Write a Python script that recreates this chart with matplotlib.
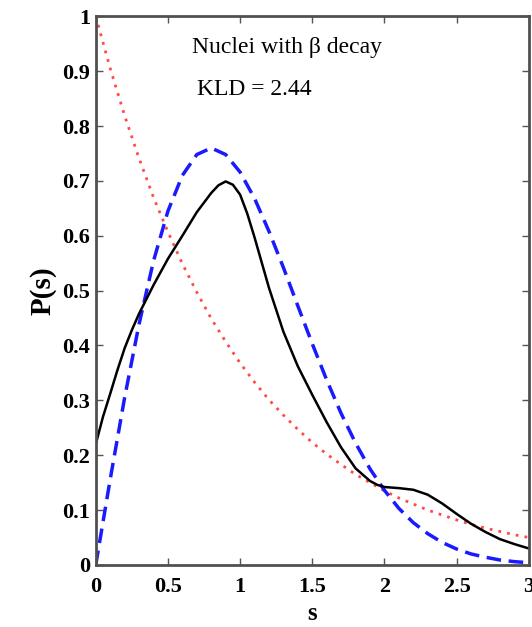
import matplotlib
matplotlib.use('Agg')
import matplotlib.pyplot as plt

# empirical spacing distribution (black)
s_data = [0, 0.05, 0.1, 0.15, 0.2, 0.25, 0.3, 0.4, 0.5, 0.6, 0.7, 0.8, 0.85, 0.9, 0.95,
          1.0, 1.05, 1.1, 1.2, 1.3, 1.4, 1.5, 1.6, 1.7, 1.8, 1.9, 1.95, 2.0, 2.1, 2.2,
          2.3, 2.4, 2.5, 2.6, 2.7, 2.8, 2.9, 3.0]
p_data = [0.22, 0.27, 0.312, 0.355, 0.395, 0.428, 0.458, 0.51, 0.558, 0.60, 0.643, 0.678, 0.692, 0.699, 0.693,
          0.675, 0.64, 0.597, 0.505, 0.425, 0.362, 0.31, 0.26, 0.214, 0.176, 0.153, 0.146, 0.142, 0.14, 0.137,
          0.128, 0.112, 0.093, 0.075, 0.06, 0.047, 0.038, 0.03]

# reference curves read at s = 0, 0.1, ..., 3
s_ref = [i / 10 for i in range(31)]
p_poisson = [1.00, 0.905, 0.819, 0.741, 0.670, 0.607, 0.549, 0.497, 0.449, 0.407, 0.368,
             0.333, 0.301, 0.273, 0.247, 0.223, 0.202, 0.183, 0.165, 0.150, 0.135,
             0.122, 0.111, 0.100, 0.091, 0.082, 0.074, 0.067, 0.061, 0.055, 0.050]
p_wigner = [0.0, 0.156, 0.305, 0.439, 0.554, 0.645, 0.710, 0.748, 0.760, 0.748, 0.716,
            0.668, 0.608, 0.542, 0.472, 0.403, 0.337, 0.276, 0.222, 0.175, 0.136,
            0.103, 0.077, 0.057, 0.041, 0.029, 0.020, 0.014, 0.009, 0.006, 0.004]

title_lines = ['Nuclei with \u03b2 decay', 'KLD = 2.44']

plt.rcParams['font.family'] = ['Liberation Serif', 'DejaVu Serif']

fig = plt.figure(figsize=(5.32, 6.27), dpi=100)
ax = fig.add_axes((0.180, 0.099, 0.814, 0.875))

ax.plot(s_ref, p_poisson, color='#ff4a4a', linestyle=(0, (1, 2.2)), linewidth=2)
ax.plot(s_ref, p_wigner, color='#1a1aff', linestyle=(0, (4.2, 2.2)), linewidth=2.5)
ax.plot(s_data, p_data, color='black', linewidth=1.8)

ax.set_xlim(0, 3)
ax.set_ylim(0, 1)
ax.set_xticks([0, 0.5, 1, 1.5, 2, 2.5, 3])
ax.set_xticklabels(['0', '0.5', '1', '1.5', '2', '2.5', '3'])
ax.set_yticks([i / 10 for i in range(11)])
ax.set_yticklabels(['0', '0.1', '0.2', '0.3', '0.4', '0.5', '0.6', '0.7', '0.8', '0.9', '1'])
ax.tick_params(direction='in', top=True, right=True, labelsize=16, length=5, width=1,
               color='#555555')
ax.tick_params(axis='x', pad=9)
ax.tick_params(axis='y', pad=4)
for lab in ax.get_xticklabels() + ax.get_yticklabels():
    lab.set_fontweight('bold')
for sp in ax.spines.values():
    sp.set_linewidth(2)
    sp.set_color('#505050')

ax.set_xlabel('s', fontsize=18, fontweight='bold', labelpad=3)
ax.set_ylabel('P(s)', fontsize=21, fontweight='bold', labelpad=4)

ax.text(0.67, 0.944, title_lines[0], fontsize=17, ha='left', va='center')
ax.text(0.70, 0.867, title_lines[1], fontsize=17, ha='left', va='center')

plt.savefig('out.png', dpi=100)
